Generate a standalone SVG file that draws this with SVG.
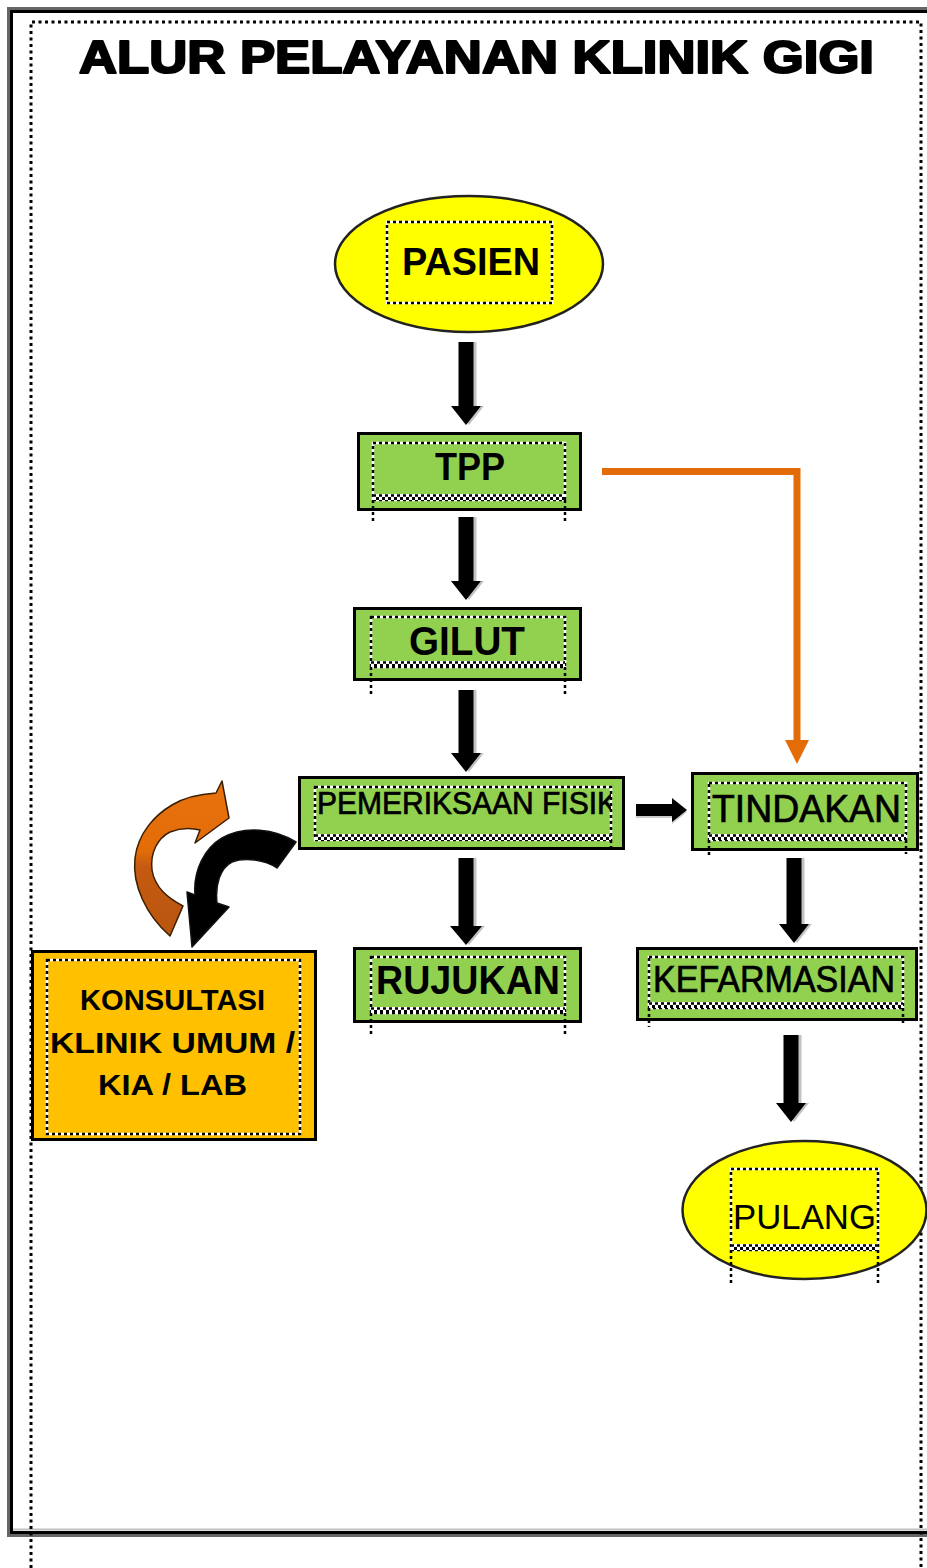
<svg xmlns="http://www.w3.org/2000/svg" width="927" height="1568" viewBox="0 0 927 1568">
<defs>
<style>
.t{font-family:"Liberation Sans",Arial,sans-serif;fill:#000}
.b{font-weight:bold}
.m{stroke:#000;stroke-width:0.7}
.box{fill:#92D050;stroke:#000;stroke-width:3}
.ell{fill:#FFFF00;stroke:#222;stroke-width:2.5}
.dw{fill:none;stroke:#fff;stroke-width:2.5}
.dk{fill:none;stroke:#000;stroke-width:2.5;stroke-dasharray:3 3}
.dk2{fill:none;stroke:#000;stroke-width:3;stroke-dasharray:3 3;stroke-dashoffset:3}
.frd{fill:none;stroke:#000;stroke-width:3;stroke-dasharray:3 3.5}
.arr{fill:#000}
.sh{fill:#9a9a9a}
</style>
<linearGradient id="og" x1="0" y1="781" x2="0" y2="936" gradientUnits="userSpaceOnUse">
<stop offset="0" stop-color="#E8720C"/>
<stop offset="0.45" stop-color="#E36C09"/>
<stop offset="0.55" stop-color="#C55A11"/>
<stop offset="1" stop-color="#B8560F"/>
</linearGradient>
<clipPath id="pemclip"><rect x="315" y="787" width="296" height="50"/></clipPath>
</defs>

<g id="frame">
<rect x="8.5" y="8.5" width="960" height="1527" fill="none" stroke="#666" stroke-width="3"/>
<rect x="11.5" y="11.5" width="960" height="1521" fill="none" stroke="#000" stroke-width="3"/>
<line x1="13" y1="1529.5" x2="927" y2="1529.5" stroke="#c0c0c0" stroke-width="2"/>
<path class="frd" d="M31,1568 V22 H921 V1568"/>
</g>

<g id="title">
<text class="t b" x="79" y="73" font-size="46" textLength="795" lengthAdjust="spacingAndGlyphs" stroke="#000" stroke-width="2.2" stroke-linejoin="round">ALUR PELAYANAN KLINIK GIGI</text>
</g>

<g id="connectors">
<path class="sh" d="M461.5,342 H476.5 V406 H484 L469,425 L454,406 H461.5 Z" opacity="0.6"/>
<path class="arr" d="M458.5,342 H473.5 V406 H481 L466,425 L451,406 H458.5 Z"/>
<path class="sh" d="M461.5,517 H476.5 V581 H484 L469,600 L454,581 H461.5 Z" opacity="0.6"/>
<path class="arr" d="M458.5,517 H473.5 V581 H481 L466,600 L451,581 H458.5 Z"/>
<path class="sh" d="M461.5,690 H476.5 V753 H484 L469,772 L454,753 H461.5 Z" opacity="0.6"/>
<path class="arr" d="M458.5,690 H473.5 V753 H481 L466,772 L451,753 H458.5 Z"/>
<path class="sh" d="M461.5,858 H476.5 V926 H485 L469,945 L453,926 H461.5 Z" opacity="0.6"/>
<path class="arr" d="M458.5,858 H473.5 V926 H482 L466,945 L450,926 H458.5 Z"/>
<path class="sh" d="M789.5,858 H804.5 V924 H812 L797,943 L782,924 H789.5 Z" opacity="0.6"/>
<path class="arr" d="M786.5,858 H801.5 V924 H809 L794,943 L779,924 H786.5 Z"/>
<path class="sh" d="M786.5,1035 H801.5 V1103 H809 L794,1122 L779,1103 H786.5 Z" opacity="0.6"/>
<path class="arr" d="M783.5,1035 H798.5 V1103 H806 L791,1122 L776,1103 H783.5 Z"/>
<path class="sh" d="M636,806 V818 H672 V824 L687,812 L672,800 V806 Z" opacity="0.5"/>
<path class="arr" d="M636,804 V816 H672 V822 L687,810 L672,798 V804 Z"/>
<path d="M602,471.5 H797 V742" fill="none" stroke="#E36C09" stroke-width="7"/>
<path d="M785,740 H809 L797,764 Z" fill="#E36C09"/>
<path d="M170,936 L183,906 C168,898 155,888 152,870 C150,852 158,838 170,832 C180,828 192,828 200,830 L195,843 L229,818 L222,781 L216,793 C200,794 185,797 172,805 C155,815 138,833 135,858 C132,885 146,915 170,936 Z" fill="url(#og)" stroke="#3a1e00" stroke-width="1.5" stroke-linejoin="round"/>
<path d="M296,842 L277,868 C265,860 245,857 232,862 C220,868 215,885 217,903 L229,907 L192,947 L187,892 L195,895 C193,870 205,848 222,838 C245,825 275,829 296,842 Z" fill="#000" stroke="#111" stroke-width="1.5" stroke-linejoin="round"/>
</g>

<g id="pasien">
<ellipse class="ell" cx="469" cy="264" rx="134" ry="68"/>
<rect class="dw" x="387" y="222" width="165" height="81"/>
<rect class="dk" x="387" y="222" width="165" height="81"/>
<text class="t b" x="402" y="275" font-size="39" textLength="138" lengthAdjust="spacingAndGlyphs">PASIEN</text>
</g>

<g id="tpp">
<rect class="box" x="358.5" y="433.5" width="222" height="76"/>
<rect class="dw" x="373" y="443" width="192" height="57"/>
<rect class="dk" x="373" y="443" width="192" height="57"/>
<rect x="373" y="494" width="192" height="6" fill="#fff"/>
<line class="dk" x1="373" y1="495.5" x2="565" y2="495.5"/>
<line class="dk2" x1="373" y1="498.5" x2="565" y2="498.5"/>
<path class="dk" d="M373,500 V523 M565,500 V523"/>
<text class="t b" x="435" y="480" font-size="39" textLength="70" lengthAdjust="spacingAndGlyphs">TPP</text>
</g>

<g id="gilut">
<rect class="box" x="354.5" y="608.5" width="226" height="71"/>
<rect class="dw" x="371" y="617" width="194" height="50"/>
<rect class="dk" x="371" y="617" width="194" height="50"/>
<rect x="371" y="661" width="194" height="6" fill="#fff"/>
<line class="dk" x1="371" y1="662.5" x2="565" y2="662.5"/>
<line class="dk2" x1="371" y1="665.5" x2="565" y2="665.5"/>
<path class="dk" d="M371,667 V694 M565,667 V694"/>
<text class="t b" x="409" y="655" font-size="41" textLength="116" lengthAdjust="spacingAndGlyphs">GILUT</text>
</g>

<g id="pemeriksaan">
<rect class="box" x="299.5" y="777.5" width="324" height="71"/>
<rect class="dw" x="315" y="787" width="296" height="53"/>
<rect class="dk" x="315" y="787" width="296" height="53"/>
<rect x="315" y="834" width="296" height="6" fill="#fff"/>
<line class="dk" x1="315" y1="835.5" x2="611" y2="835.5"/>
<line class="dk2" x1="315" y1="838.5" x2="611" y2="838.5"/>
<path class="dk" d="M611,840 V850"/>
<text class="t m" x="317" y="814" font-size="31" textLength="300" lengthAdjust="spacingAndGlyphs" clip-path="url(#pemclip)">PEMERIKSAAN FISIK</text>
</g>

<g id="tindakan">
<rect class="box" x="692.5" y="773.5" width="225" height="76"/>
<rect class="dw" x="709" y="783" width="197" height="57"/>
<rect class="dk" x="709" y="783" width="197" height="57"/>
<rect x="709" y="834" width="197" height="6" fill="#fff"/>
<line class="dk" x1="709" y1="835.5" x2="906" y2="835.5"/>
<line class="dk2" x1="709" y1="838.5" x2="906" y2="838.5"/>
<path class="dk" d="M709,840 V857 M906,840 V854"/>
<text class="t m" x="712" y="822" font-size="38" textLength="189" lengthAdjust="spacingAndGlyphs">TINDAKAN</text>
</g>

<g id="rujukan">
<rect class="box" x="354.5" y="948.5" width="226" height="73"/>
<rect class="dw" x="371" y="957" width="194" height="56"/>
<rect class="dk" x="371" y="957" width="194" height="56"/>
<rect x="371" y="1007" width="194" height="6" fill="#fff"/>
<line class="dk" x1="371" y1="1008.5" x2="565" y2="1008.5"/>
<line class="dk2" x1="371" y1="1011.5" x2="565" y2="1011.5"/>
<path class="dk" d="M371,1013 V1037 M565,1013 V1034"/>
<text class="t b" x="376" y="994" font-size="40" textLength="184" lengthAdjust="spacingAndGlyphs">RUJUKAN</text>
</g>

<g id="kefarmasian">
<rect class="box" x="637.5" y="948.5" width="279" height="71"/>
<rect class="dw" x="649" y="957" width="254" height="51"/>
<rect class="dk" x="649" y="957" width="254" height="51"/>
<rect x="649" y="1002" width="254" height="6" fill="#fff"/>
<line class="dk" x1="649" y1="1003.5" x2="903" y2="1003.5"/>
<line class="dk2" x1="649" y1="1006.5" x2="903" y2="1006.5"/>
<path class="dk" d="M649,1008 V1027 M903,1008 V1024"/>
<text class="t m" x="653" y="992" font-size="37" textLength="242" lengthAdjust="spacingAndGlyphs">KEFARMASIAN</text>
</g>

<g id="pulang">
<ellipse class="ell" cx="804.5" cy="1210" rx="122" ry="69"/>
<rect class="dw" x="731" y="1169" width="147" height="81"/>
<rect class="dk" x="731" y="1169" width="147" height="81"/>
<rect x="731" y="1244" width="147" height="6" fill="#fff"/>
<line class="dk" x1="731" y1="1245.5" x2="878" y2="1245.5"/>
<line class="dk2" x1="731" y1="1248.5" x2="878" y2="1248.5"/>
<path class="dk" d="M731,1250 V1286 M878,1250 V1283"/>
<text class="t" x="733" y="1229" font-size="35" textLength="143" lengthAdjust="spacingAndGlyphs">PULANG</text>
</g>

<g id="konsultasi">
<rect x="32.5" y="951.5" width="283" height="188" fill="#FFC000" stroke="#000" stroke-width="3"/>
<rect class="dw" x="47" y="960" width="253" height="174"/>
<rect class="dk" x="47" y="960" width="253" height="174"/>
<text class="t b" x="80" y="1010" font-size="29" textLength="185" lengthAdjust="spacingAndGlyphs">KONSULTASI</text>
<text class="t b" x="50" y="1053" font-size="29" textLength="245" lengthAdjust="spacingAndGlyphs">KLINIK UMUM /</text>
<text class="t b" x="98" y="1095" font-size="29" textLength="149" lengthAdjust="spacingAndGlyphs">KIA / LAB</text>
</g>
</svg>
